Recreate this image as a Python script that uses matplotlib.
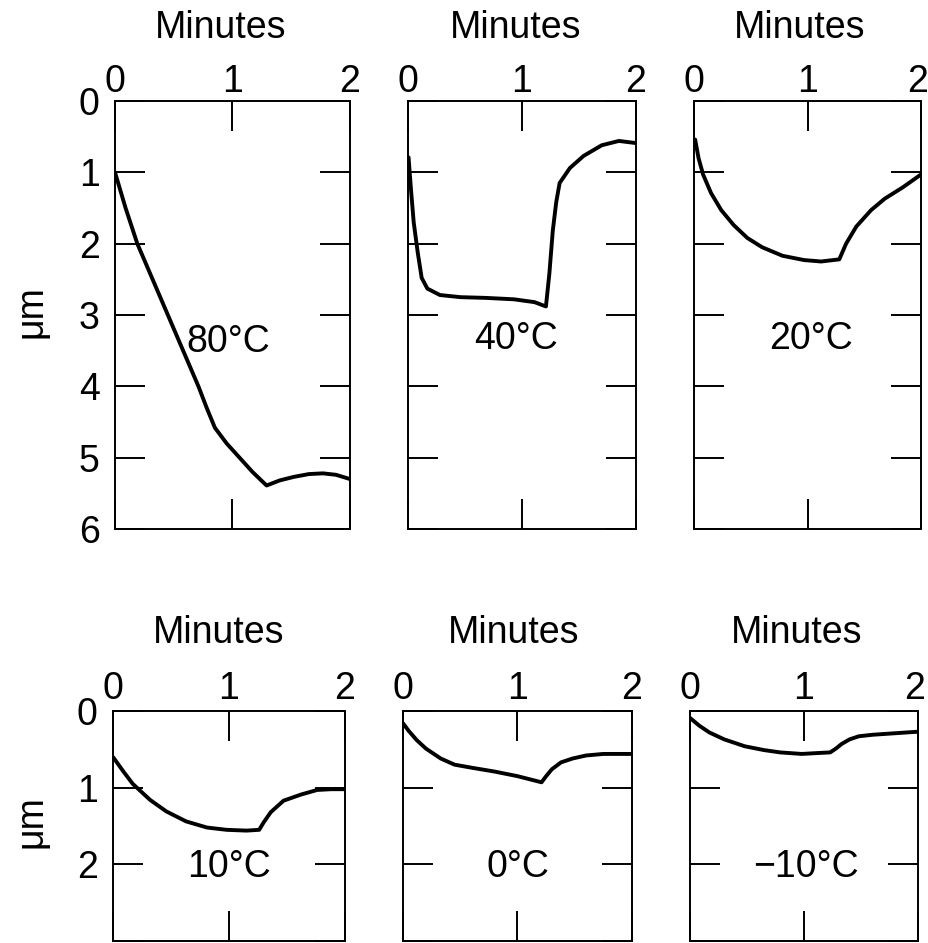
import matplotlib
matplotlib.use("Agg")
import matplotlib.pyplot as plt
import matplotlib.transforms as mtransforms

plt.rcParams['font.family'] = ['Liberation Sans', 'DejaVu Sans']

# ---- data ----
x_80 = [0.0, 0.09, 0.19, 0.32, 0.45, 0.58, 0.71, 0.78, 0.85, 0.95, 1.06, 1.17, 1.29, 1.40, 1.52, 1.65, 1.77, 1.88, 2.0]
y_80 = [1.0, 1.50, 2.0, 2.50, 3.0, 3.50, 4.0, 4.30, 4.58, 4.80, 5.0, 5.20, 5.39, 5.32, 5.27, 5.23, 5.22, 5.24, 5.30]

x_40 = [0.005, 0.025, 0.05, 0.085, 0.12, 0.17, 0.28, 0.46, 0.68, 0.93, 1.11, 1.21, 1.24, 1.27, 1.30, 1.33, 1.42, 1.54, 1.70, 1.85, 2.0]
y_40 = [0.79, 1.22, 1.70, 2.12, 2.48, 2.63, 2.72, 2.75, 2.76, 2.78, 2.82, 2.88, 2.42, 1.82, 1.42, 1.15, 0.94, 0.77, 0.62, 0.56, 0.59]

x_20 = [0.01, 0.04, 0.08, 0.15, 0.24, 0.35, 0.47, 0.60, 0.78, 0.97, 1.12, 1.28, 1.34, 1.43, 1.56, 1.68, 1.84, 2.0]
y_20 = [0.54, 0.80, 1.03, 1.29, 1.53, 1.74, 1.92, 2.05, 2.17, 2.23, 2.25, 2.22, 2.00, 1.76, 1.53, 1.37, 1.21, 1.03]

x_10 = [0.0, 0.09, 0.17, 0.32, 0.46, 0.63, 0.81, 0.98, 1.15, 1.26, 1.30, 1.36, 1.47, 1.62, 1.76, 1.88, 2.0]
y_10 = [0.60, 0.79, 0.95, 1.16, 1.31, 1.44, 1.52, 1.55, 1.56, 1.55, 1.45, 1.32, 1.17, 1.09, 1.03, 1.02, 1.02]

x_0 = [0.0, 0.05, 0.12, 0.20, 0.33, 0.45, 0.60, 0.80, 1.0, 1.21, 1.25, 1.30, 1.38, 1.48, 1.60, 1.75, 2.0]
y_0 = [0.16, 0.26, 0.38, 0.49, 0.62, 0.70, 0.74, 0.79, 0.85, 0.93, 0.85, 0.76, 0.67, 0.62, 0.58, 0.56, 0.56]

x_m10 = [0.0, 0.08, 0.17, 0.30, 0.48, 0.65, 0.79, 0.98, 1.10, 1.23, 1.28, 1.33, 1.40, 1.48, 1.60, 1.80, 2.0]
y_m10 = [0.09, 0.19, 0.28, 0.37, 0.46, 0.51, 0.54, 0.56, 0.55, 0.54, 0.49, 0.43, 0.37, 0.33, 0.31, 0.29, 0.27]

labels = ['80°C', '40°C', '20°C', '10°C', '0°C', '\u221210°C']
label_pos = [(0.96, 3.52), (0.95, 3.48), (1.03, 3.48), (1.0, 2.16), (1.0, 2.16), (1.02, 2.16)]
series = [(x_80, y_80), (x_40, y_40), (x_20, y_20), (x_10, y_10), (x_0, y_0), (x_m10, y_m10)]

x_ticks = [0, 1, 2]
y_ticks_top = [0, 1, 2, 3, 4, 5, 6]
y_ticks_bot = [0, 1, 2, 3]
y_ticklabels_bot = ['0', '1', '2', '']

# ---- layout (pixels) ----
W, H = 929, 943
fig = plt.figure(figsize=(W / 100, H / 100), dpi=100)
boxes = [
    (115, 350, 101, 529), (408, 636, 101, 529), (694, 921, 101, 529),
    (113, 345, 711, 941), (403, 632, 711, 941), (690, 918, 711, 941),
]
minutes_x = [221, 516, 800, 219, 514, 797]
FS = 27

for i, (x0, x1, yt, yb) in enumerate(boxes):
    ax = fig.add_axes([x0 / W, 1 - yb / H, (x1 - x0) / W, (yb - yt) / H])
    xs, ys = series[i]
    ax.plot(xs, ys, color='black', lw=2.8, solid_joinstyle='round', solid_capstyle='round')
    ax.set_xlim(0, 2)
    top = i < 3
    first_col = i in (0, 3)
    if top:
        ax.set_ylim(6, 0)
        ax.set_yticks(y_ticks_top)
        ax.set_yticklabels([str(t) for t in y_ticks_top])
    else:
        ax.set_ylim(3, 0)
        ax.set_yticks(y_ticks_bot)
        ax.set_yticklabels(y_ticklabels_bot)
    ax.set_xticks(x_ticks)
    ax.set_xticklabels([str(t) for t in x_ticks])
    ax.tick_params(axis='both', direction='in', length=21.5, width=1.4, color='black',
                   top=True, bottom=True, left=True, right=True,
                   labeltop=True, labelbottom=False, labelleft=first_col, labelright=False,
                   labelsize=FS)
    ax.tick_params(axis='x', pad=1.0 if top else 3.0)
    ax.tick_params(axis='y', pad=11)
    for s in ax.spines.values():
        s.set_linewidth(1.4)
        s.set_color('black')
    if i in (2, 5):
        # keep the last top tick label inside the picture
        lab = ax.xaxis.get_major_ticks()[2].label2
        lab.set_transform(lab.get_transform() +
                          mtransforms.ScaledTranslation(-3 / 100, 0, fig.dpi_scale_trans))
    lx, ly = label_pos[i]
    ax.text(lx, ly, labels[i], ha='center', va='baseline', fontsize=FS)
    # "Minutes" label above each panel
    fig.text(minutes_x[i] / W, 1 - (38 if top else 643) / H, 'Minutes',
             ha='center', va='baseline', fontsize=FS)

# micrometre labels
fig.text(32 / W, 1 - 312 / H, 'μm', rotation=90, ha='center', va='center', fontsize=FS)
fig.text(32 / W, 1 - 822 / H, 'μm', rotation=90, ha='center', va='center', fontsize=FS)

fig.savefig('out.png', dpi=100, facecolor='white')
